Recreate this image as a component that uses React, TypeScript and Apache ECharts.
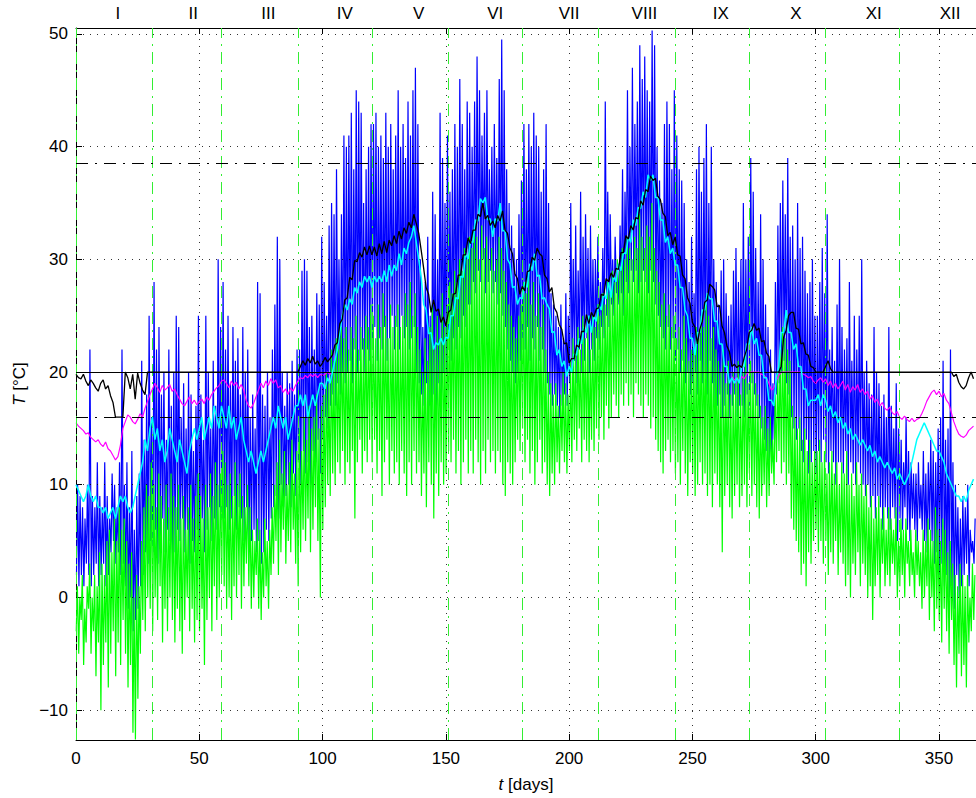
import React, { useEffect, useRef } from "react";
import * as echarts from "echarts";

// ---------- data ----------
// daily maxima / minima of the blue series (days 0..364)
const blueHi = [
  10, 9, 8, 7, 10, 22, 9, 8, 12, 9,
  8, 12, 9, 7, 11, 10, 8, 12, 22, 10,
  12, 8, 13, 6, 9, 11, 21, 14, 18, 25,
  16, 28, 22, 24, 18, 20, 14, 22, 17, 20,
  25, 24, 16, 19, 15, 20, 18, 13, 17, 25,
  18, 14, 25, 20, 15, 21, 17, 30, 24, 28,
  22, 25, 19, 24, 21, 23, 18, 24, 20, 22,
  16, 18, 15, 28, 27, 18, 17, 20, 16, 22,
  26, 32, 30, 20, 17, 20, 19, 21, 18, 22,
  22, 29, 30, 29, 24, 25, 22, 27, 26, 32,
  28, 25, 33, 35, 34, 38, 30, 34, 41, 40,
  41, 43, 38, 45, 44, 43, 35, 38, 40, 42,
  42, 43, 40, 41, 39, 43, 40, 42, 38, 41,
  45, 40, 42, 39, 44, 41, 45, 47, 42, 30,
  24, 28, 32, 25, 36, 34, 30, 43, 39, 35,
  41, 36, 38, 42, 40, 46, 42, 38, 44, 43,
  40, 44, 48, 45, 41, 43, 45, 38, 40, 42,
  39, 46, 49.5, 45, 38, 35, 33, 31, 30, 34,
  37, 42, 38, 42, 40, 43, 41, 40, 36, 38,
  42, 35, 27, 26, 25, 24, 26, 23, 27, 25,
  35, 30, 33, 29, 36, 32, 34, 31, 33, 30,
  30, 32, 28, 31, 44, 36, 34, 30, 32, 29,
  33, 38, 36, 45, 40, 47, 42, 44, 49, 46,
  48, 45, 44, 50.3, 49, 40, 37, 35, 42, 44,
  42, 38, 45, 41, 38, 37, 35, 30, 28, 32,
  27, 38, 40, 36, 39, 42, 35, 40, 30, 28,
  26, 29, 30, 27, 25, 26, 29, 31, 28, 30,
  35, 30, 32, 39, 36, 31, 28, 34, 30, 26,
  24, 22, 19, 28, 33, 35, 37, 34, 39, 32,
  33, 30, 35, 31, 32, 29, 27, 28, 30, 25,
  25, 28, 31, 27, 34, 22, 24, 21, 26, 30,
  24, 22, 23, 28, 21, 25, 22, 25, 30, 20,
  21, 19, 18, 24, 20, 19, 17, 18, 16, 24,
  17, 15, 19, 15, 14, 12, 16, 13, 12, 11,
  11, 12, 10, 13, 11, 12, 14, 13, 12, 15,
  16, 21, 14, 15, 22, 12, 10, 8, 7, 9,
  8, 10, 6, 5, 7,
];
const blueLo = [
  2, 1, 2, 1, 3, 2, 1, 2, 3, 1,
  2, 3, 1, 2, 4, 5, 3, 4, 2, 3,
  1, -1, 0, -3, -2, -1, 1, 2, 4, 3,
  5, 4, 6, 3, 5, 7, 4, 6, 5, 3,
  4, 6, 5, 7, 4, 6, 3, 5, 4, 6,
  5, 7, 4, 6, 8, 5, 7, 6, 8, 7,
  7, 8, 6, 7, 9, 6, 8, 7, 5, 8,
  4, 5, 6, 4, 5, 3, 4, 6, 5, 7,
  8, 9, 7, 10, 8, 9, 10, 8, 11, 9,
  12, 10, 13, 11, 12, 10, 13, 12, 14, 11,
  14, 16, 15, 17, 18, 17, 19, 18, 20, 19,
  20, 21, 19, 22, 20, 21, 22, 20, 22, 21,
  22, 24, 21, 23, 22, 24, 21, 23, 25, 22,
  24, 22, 25, 23, 24, 22, 23, 24, 20, 19,
  18, 17, 19, 17, 16, 18, 17, 19, 18, 20,
  20, 22, 21, 23, 22, 24, 23, 25, 24, 26,
  26, 28, 27, 29, 28, 30, 27, 28, 29, 27,
  28, 26, 27, 25, 24, 22, 21, 20, 19, 20,
  21, 23, 22, 24, 21, 23, 22, 24, 21, 22,
  20, 19, 18, 17, 18, 17, 16, 17, 18, 17,
  19, 20, 21, 19, 22, 20, 21, 23, 20, 22,
  21, 23, 22, 24, 23, 25, 24, 26, 25, 27,
  26, 27, 25, 28, 27, 29, 28, 29, 27, 28,
  29, 28, 27, 29, 28, 26, 25, 24, 23, 22,
  24, 22, 23, 21, 22, 20, 21, 19, 20, 18,
  19, 20, 18, 21, 19, 20, 18, 21, 19, 17,
  17, 18, 16, 17, 18, 16, 17, 18, 16, 17,
  17, 16, 18, 17, 19, 18, 17, 16, 15, 14,
  13, 12, 12, 14, 18, 19, 20, 21, 19, 18,
  16, 15, 14, 15, 13, 12, 14, 11, 12, 13,
  11, 13, 12, 14, 12, 11, 13, 12, 10, 12,
  12, 11, 13, 10, 12, 11, 10, 12, 11, 10,
  9, 10, 8, 9, 7, 9, 8, 6, 8, 7,
  6, 8, 7, 5, 7, 6, 8, 6, 5, 7,
  6, 5, 7, 6, 5, 4, 6, 5, 3, 4,
  2, 3, 1, 2, 0, 1, -1, 2, 0, 1,
  2, 3, 1, 4, 3,
];
// daily maxima / minima of the green series
const greenHi = [
  1, 0, 2, -1, 1, 3, 0, 2, 1, 4,
  3, 2, 5, 6, 4, 7, 5, 8, 6, 7,
  5, 3, 4, 0, 2, 1, 5, 8, 10, 9,
  12, 10, 8, 11, 9, 7, 10, 8, 11, 9,
  8, 10, 7, 9, 6, 8, 10, 7, 9, 11,
  9, 7, 10, 8, 11, 9, 12, 10, 11, 13,
  12, 10, 11, 9, 12, 10, 11, 9, 8, 10,
  8, 6, 5, 7, 6, 4, 7, 5, 6, 8,
  10, 12, 14, 11, 13, 10, 12, 14, 11, 13,
  15, 13, 16, 14, 17, 15, 16, 18, 15, 17,
  18, 20, 19, 22, 21, 23, 22, 24, 23, 24,
  22, 24, 23, 25, 22, 24, 23, 25, 24, 26,
  25, 23, 26, 24, 27, 25, 23, 26, 24, 25,
  26, 24, 25, 27, 26, 28, 25, 27, 24, 22,
  20, 23, 21, 24, 26, 22, 25, 23, 27, 24,
  26, 28, 27, 29, 28, 30, 29, 31, 30, 32,
  31, 33, 32, 30, 33, 31, 32, 30, 31, 29,
  30, 32, 31, 29, 28, 26, 25, 24, 23, 25,
  26, 28, 27, 29, 26, 28, 25, 27, 24, 26,
  22, 20, 19, 18, 19, 17, 18, 20, 19, 18,
  21, 23, 22, 24, 22, 25, 23, 24, 22, 25,
  24, 26, 25, 27, 26, 28, 27, 29, 28, 30,
  29, 31, 30, 32, 31, 30, 32, 31, 34, 32,
  31, 33, 32, 35, 31, 29, 28, 26, 27, 25,
  26, 24, 25, 23, 24, 22, 25, 23, 21, 22,
  22, 24, 23, 25, 24, 26, 25, 23, 24, 22,
  21, 20, 22, 19, 21, 18, 20, 19, 21, 18,
  20, 22, 19, 21, 20, 19, 18, 17, 16, 17,
  15, 16, 14, 18, 20, 22, 24, 23, 22, 21,
  17, 16, 15, 16, 14, 15, 13, 14, 12, 13,
  13, 14, 12, 13, 11, 12, 13, 11, 12, 10,
  12, 11, 13, 10, 11, 9, 12, 10, 11, 9,
  10, 8, 9, 7, 8, 9, 7, 8, 6, 8,
  7, 6, 8, 5, 7, 6, 7, 5, 6, 4,
  6, 5, 4, 6, 5, 7, 6, 5, 8, 6,
  5, 7, 6, 4, 5, 3, 2, 1, 3, 2,
  1, 2, 0, 3, 2,
];
const greenLo = [
  -3, -5, -2, -6, -4, -1, -5, -3, -7, -4,
  -10, -6, -4, -8, -5, -3, -7, -4, -6, -2,
  -5, -8, -6, -12, -12.6, -9, -5, -2, -3, 0,
  -1, -3, 0, -2, 1, -4, -1, -3, 0, -2,
  -4, -1, -3, -5, -2, 0, -3, -1, -4, -2,
  -3, -1, -6, -2, 0, -3, 1, -2, 0, 2,
  1, -1, 0, -2, 1, 0, 2, -1, 1, 3,
  1, -1, 0, 2, -1, -2, 0, 1, -1, 2,
  3, 5, 2, 4, 6, 3, 5, 4, 6, 3,
  1, 4, 6, 5, 7, 4, 6, 8, 5, 0,
  6, 8, 10, 9, 11, 10, 12, 11, 13, 10,
  12, 11, 13, 7, 12, 14, 11, 13, 12, 14,
  12, 14, 11, 13, 9, 12, 14, 10, 13, 11,
  12, 10, 13, 11, 9, 12, 10, 13, 11, 12,
  9, 11, 8, 12, 10, 7, 11, 9, 12, 10,
  11, 13, 12, 14, 11, 13, 10, 12, 14, 11,
  13, 11, 14, 12, 10, 13, 11, 14, 12, 13,
  11, 13, 12, 10, 9, 12, 11, 10, 12, 14,
  13, 15, 12, 14, 11, 13, 10, 12, 14, 11,
  12, 10, 9, 11, 10, 12, 11, 13, 12, 11,
  13, 12, 14, 13, 15, 12, 14, 13, 12, 14,
  13, 15, 14, 16, 14, 17, 15, 16, 18, 17,
  16, 18, 17, 19, 17, 18, 16, 19, 18, 17,
  16, 18, 17, 15, 16, 14, 13, 12, 11, 13,
  14, 12, 13, 11, 12, 10, 13, 11, 9, 12,
  11, 9, 10, 12, 10, 11, 9, 10, 8, 11,
  10, 8, 4, 9, 10, 8, 7, 9, 10, 8,
  9, 10, 8, 11, 9, 10, 8, 7, 9, 10,
  8, 9, 11, 10, 12, 13, 11, 12, 10, 11,
  7, 6, 5, 4, 2, 3, 1, 4, 3, 5,
  6, 4, 5, 3, 5, 2, 4, 3, 5, 2,
  4, 3, 1, 2, 0, 3, 2, 4, 1, 3,
  2, 0, 1, -2, 1, 2, 0, 3, 1, 2,
  1, 3, 2, 0, 1, 2, 0, 3, 1, 2,
  0, 2, 1, -1, 0, 1, -2, 0, -3, -1,
  -2, -4, -1, -3, -5, -2, -6, -8, -5, -7,
  -6, -8, -4, -3, -2,
];
// cyan series, one value per day
const cyan = [
  10, 9.5, 9, 8.5, 9, 10, 9, 8.5, 9, 8,
  8, 7.5, 8, 7, 7.5, 8, 7, 8, 9, 8.5,
  9, 8, 7.5, 8, 9, 10, 11, 12, 14, 13,
  15, 16, 14, 15, 13, 14, 12, 13, 15, 14,
  13, 12, 14, 13, 12, 11, 13, 14, 15, 14,
  15, 16, 14, 15, 16, 15, 17, 16, 15, 17,
  16, 15, 17, 15, 16, 14, 15, 16, 14, 13,
  12, 13, 12, 11, 12, 13, 12, 13, 14, 15,
  16, 15, 17, 16, 15, 16, 14, 15, 16, 17,
  17, 18, 17, 18, 16, 17, 18, 17, 18, 19,
  19, 18.5, 19.5, 19, 20, 21, 22, 23.5, 25, 26,
  25.5, 26.5, 26, 27.5, 27, 28, 27.5, 28.5, 28, 28.5,
  27.5, 28.5, 28, 28.5, 28, 29, 28, 29.5, 28.5, 29.5,
  29, 30.5, 29.5, 31, 30.5, 31.5, 32, 33, 31.5, 30,
  28.4, 26, 25.5, 23.4, 23.5, 22, 22.6, 22.4, 23, 22.4,
  23.1, 23, 25, 25, 26.6, 26.5, 28.5, 28.4, 30.6, 30,
  31.6, 31.5, 33.5, 33.4, 35.4, 35, 35.5, 33.5, 33.6, 32,
  33.6, 33.4, 35, 32.5, 32.6, 30, 29.6, 27.5, 27.6, 26,
  26.6, 26.5, 28, 27.5, 29.6, 29, 30.5, 28.5, 28.6, 26.5,
  26.6, 26, 25.6, 23.5, 23.6, 21.5, 22, 20.5, 21, 19.6,
  20.5, 20, 21.6, 21.5, 23, 22.5, 24, 23.5, 25, 23.5,
  25, 24.5, 26, 25.5, 27, 26.5, 28, 26.6, 28.6, 28,
  29.6, 29, 30.6, 30.5, 32, 31.5, 33.5, 33, 34.6, 34.5,
  36, 35.5, 37.5, 37, 37.5, 35.5, 35.5, 33.5, 33.5, 31.5,
  32, 30.5, 31, 29.5, 29.5, 27.5, 27.5, 25.5, 25, 23,
  23, 21.5, 23.5, 23.5, 25.5, 25.5, 27, 26.5, 26.5, 24.5,
  24.5, 22.5, 22.5, 20.5, 20.5, 19, 19.5, 19, 19.5, 19,
  20.5, 20.5, 22.5, 22.5, 24, 22.5, 23, 21.5, 21.5, 19.5,
  19.5, 17.5, 17.5, 17, 19.5, 20.5, 23.5, 23.5, 25.5, 23.5,
  23.5, 22, 22.5, 20.5, 20.5, 18.5, 18.5, 17, 17.5, 17.5,
  17.5, 18, 17, 18, 17.5, 16.5, 17, 16, 16.5, 15.5,
  16, 15, 15.5, 14.5, 15, 14, 14.5, 14, 13.5, 14,
  13.5, 13, 13.5, 12.5, 13, 12, 12.5, 12, 11.5, 12,
  11.5, 11, 11.5, 10.5, 11, 10.5, 10, 10.5, 11, 12,
  13, 14, 14.5, 15, 15.5, 15, 14.5, 14, 13.5, 13,
  13, 12.5, 12, 11, 10.5, 10, 9.5, 9, 9, 8.5,
  9, 8.5, 9.5, 10, 10.5,
];
// magenta series: two stretches (days 0..104 and days 266..364)
const magentaEarlyStart = 0;
const magentaEarly = [
  15.5, 15.2, 15, 14.8, 14.5, 14.6, 14.2, 14, 13.8, 14,
  13.6, 13.4, 13.8, 13.2, 13, 12.6, 12.2, 12.5, 13.5, 15,
  15.6, 16.2, 16, 15.6, 15.4, 15.8, 16.3, 16, 16.8, 17.4,
  18, 18.5, 19, 18.6, 18.2, 18.8, 18.4, 18.6, 18.9, 18.3,
  18.5, 18, 17.6, 17.2, 17, 17.4, 17.8, 17.2, 17.5, 17.1,
  17.4, 17.6, 17.2, 17.8, 17.5, 18, 18.3, 18.6, 18.8, 19.2,
  19.3, 19, 18.6, 19.2, 18.8, 19.1, 18.5, 18.9, 18.4, 17.5,
  17, 16.8, 17.2, 17.8, 18.4, 19, 18.6, 19.2, 18.8, 19.4,
  19, 19.3, 18.6, 18.8, 18.2, 18.5, 18, 18.6, 18.3, 18.8,
  19.2, 19.5, 19.4, 19.7, 19.5, 19.8, 19.6, 19.8, 19.5, 19.8,
  19.7, 19.8, 20, 19.8, 20,
];
const magentaLateStart = 266;
const magentaLate = [
  19.6, 19.3, 19.5, 19.2,
  19.6, 19.4, 19.8, 20, 20, 20, 20, 20, 19.8, 19.7,
  19.5, 19, 18.4, 18.6, 19.2, 19.7, 20, 20, 20, 20,
  20, 20, 20, 20, 20, 19.8, 19.7, 19.5, 19.6, 19.2,
  19, 19.3, 19.5, 19.1, 19.4, 18.8, 19.2, 18.6, 19, 18.5,
  18.8, 19.2, 18.4, 18.9, 18.2, 18.7, 18.4, 18.9, 18.2, 18.5,
  18, 18.3, 17.6, 17.9, 17.3, 17.6, 17, 17.3, 16.8, 16.6,
  16.9, 16.4, 16.2, 16.5, 16, 15.8, 16.1, 15.8, 15.6, 15.9,
  15.6, 15.8, 15.9, 16.3, 16.8, 17.4, 17.8, 18.2, 18.4, 18,
  18.3, 17.8, 18.1, 17.5, 17.2, 16.4, 15.6, 15, 14.5, 14.3,
  14.2, 14.4, 14.8, 15, 15.2,
];
// black series, one value per day
const black = [
  19.8, 19.5, 19.4, 19.8, 19.2, 18.8, 19.3, 19, 18.6, 18.3,
  19, 19.3, 18.5, 18.8, 17.9, 17.3, 16, 16, 16, 16,
  20, 19.5, 18.5, 19.8, 17.6, 19.9, 19, 18.4, 18, 20,
  20, 20, 20, 20, 20, 20, 20, 20, 20, 20,
  20, 20, 20, 20, 20, 20, 20, 20, 20, 20,
  20, 20, 20, 20, 20, 20, 20, 20, 20, 20,
  20, 20, 20, 20, 20, 20, 20, 20, 20, 20,
  20, 20, 20, 20, 20, 20, 20, 20, 20, 20,
  20, 20, 20, 20, 20, 20, 20, 20, 20, 20,
  20, 20.5, 21, 20.6, 21.2, 20.8, 21.4, 20.7, 21, 20.5,
  20.8, 21.3, 20.9, 21.2, 21.5, 22.4, 22.6, 24.3, 24.7, 26.4,
  26.6, 28.4, 28.2, 29.9, 29.8, 30.6, 30.2, 31.1, 30.4, 31.2,
  30.4, 31.1, 30.3, 31.4, 30.5, 31.6, 30.6, 31.7, 31.2, 32.1,
  31.4, 32.5, 31.8, 32.8, 32.3, 33.3, 32.8, 34, 33.2, 32.3,
  30.8, 29.2, 27.5, 26.9, 25.3, 26.4, 25.4, 25.6, 24.4, 24.9,
  24.1, 25.3, 25.5, 26.9, 27, 28.6, 28.6, 30.4, 30.4, 31.9,
  31.4, 32.6, 32.6, 34, 33.8, 35, 33.6, 33.9, 33, 33.4,
  32.8, 33.9, 33.4, 34.3, 32.6, 32.3, 31, 30.5, 28.7, 28.3,
  26.9, 27.6, 27.2, 28.9, 29, 30.2, 29.9, 31, 30.5, 30.3,
  28.6, 28.3, 27.1, 27.5, 25.7, 25.3, 24.2, 23.8, 22.5, 22.6,
  20.8, 21.2, 21.2, 22.4, 22.2, 23.6, 23.6, 25.1, 24.3, 25.3,
  24.9, 25.6, 25.7, 26.9, 26.8, 28.3, 28, 28.8, 28.4, 29.2,
  29.1, 30.6, 30.6, 32.1, 31.8, 33, 32.6, 33.7, 33.6, 35.2,
  34.8, 36.2, 36, 37.4, 37, 37.2, 35.6, 35.3, 34.1, 33.8,
  32.1, 32.4, 31.3, 32, 30.4, 30.3, 28.6, 28.3, 26.6, 26.1,
  24.4, 24, 22.5, 23.8, 24.5, 26.2, 26.4, 27.8, 27.6, 27.3,
  25.8, 25.9, 24.1, 23.5, 22.3, 21.8, 20.5, 20.7, 20.4, 20.6,
  20.4, 21.3, 22, 23.5, 23.7, 24.3, 23.7, 23.9, 22.7, 22.8,
  21.7, 21.4, 20, 20, 20, 20, 20.5, 23.1, 23.7, 25,
  25.3, 25.3, 23.9, 23.8, 22.5, 22.6, 21.6, 21.5, 20.5, 20.4,
  20, 20, 20, 20, 20.5, 21, 20.3, 20, 20, 20,
  20, 20, 20, 20, 20, 20, 20, 20, 20, 20,
  20, 20, 20, 20, 20, 20, 20, 20, 20, 20,
  20, 20, 20, 20, 20, 20, 20, 20, 20, 20,
  20, 20, 20, 20, 20, 20, 20, 20, 20, 20,
  20, 20, 20, 20, 20, 20, 19.6, 19.8, 19.1, 18.7,
  18.5, 18.8, 19.5, 20, 19.4,
];

const xTicks = [0, 50, 100, 150, 200, 250, 300, 350];
const yTicks = [-10, 0, 10, 20, 30, 40, 50];
const monthStarts = [0, 31, 59, 90, 120, 151, 181, 212, 243, 273, 304, 334];
const monthLabels = ["I", "II", "III", "IV", "V", "VI", "VII", "VIII", "IX", "X", "XI", "XII"];
const monthLabelPos = [17, 47.5, 78, 109, 139, 170, 200, 230.5, 261.5, 292, 323.5, 354.5];
const dashedLevels = [38.5, 16];
const solidLevel = 20;
const xMin = 0;
const xMax = 365;
const yMin = -12.65;
const yMax = 50.53;

const FONT = "'Liberation Sans', Arial, Helvetica, sans-serif";

function zigzag(lo: number[], hi: number[], oLo: number, oHi: number) {
  const out: number[][] = [];
  lo.forEach((v, d) => {
    out.push([d + oLo, v]);
    out.push([d + oHi, hi[d]]);
  });
  return out;
}

export default function App() {
  const ref = useRef<HTMLDivElement>(null);

  useEffect(() => {
    if (!ref.current) return;
    const chart = echarts.init(ref.current, null, { renderer: "svg" });

    const blueData = zigzag(blueLo, blueHi, 0.2, 0.65);
    const greenData = zigzag(greenLo, greenHi, 0.1, 0.55);
    const cyanData = cyan.map((v, d) => [d, v]);
    const blackData = black.map((v, d) => [d, v]);
    const magentaData: any[] = [
      ...magentaEarly.map((v, i) => [magentaEarlyStart + i, v]),
      [magentaEarlyStart + magentaEarly.length, null],
      ...magentaLate.map((v, i) => [magentaLateStart + i, v]),
    ];

    const fmtY = (v: number) => (v < 0 ? "\u2212" + Math.abs(v) : String(v));
    const dashDot = [12, 7, 2, 7];

    const lineSeries = (name: string, data: any[], color: string, z: number, width = 1) => ({
      name,
      type: "line",
      data,
      symbol: "none",
      showSymbol: false,
      silent: true,
      z,
      connectNulls: false,
      lineStyle: { color, width },
      itemStyle: { color },
    });

    const option: any = {
      animation: false,
      backgroundColor: "#ffffff",
      textStyle: { fontFamily: FONT },
      grid: { left: 76, top: 28, width: 900, height: 714, containLabel: false },
      xAxis: [
        {
          type: "value",
          min: xMin,
          max: xMax,
          position: "bottom",
          axisLine: { show: true, onZero: false, lineStyle: { color: "#000", width: 1 } },
          axisTick: { show: true, inside: true, length: 6, customValues: xTicks, lineStyle: { color: "#000" } },
          axisLabel: { customValues: xTicks, color: "#000", fontSize: 17, margin: 10, fontFamily: FONT },
          splitLine: { show: false },
          name: "{i|t} [days]",
          nameLocation: "middle",
          nameGap: 36,
          nameTextStyle: {
            color: "#000",
            fontSize: 17,
            fontFamily: FONT,
            rich: { i: { fontStyle: "italic", fontSize: 17, fontFamily: FONT, color: "#000" } },
          },
        },
        {
          type: "value",
          min: xMin,
          max: xMax,
          position: "top",
          axisLine: { show: true, onZero: false, lineStyle: { color: "#000", width: 1 } },
          axisTick: { show: true, inside: true, length: 6, customValues: xTicks, lineStyle: { color: "#000" } },
          axisLabel: {
            customValues: monthLabelPos,
            color: "#000",
            fontSize: 17,
            margin: 6,
            fontFamily: FONT,
            formatter: (v: number) => {
              const i = monthLabelPos.indexOf(v);
              return i >= 0 ? monthLabels[i] : "";
            },
          },
          splitLine: { show: false },
        },
      ],
      yAxis: {
        type: "value",
        min: yMin,
        max: yMax,
        axisLine: { show: true, onZero: false, lineStyle: { color: "#000", width: 1 } },
        axisTick: { show: true, inside: true, length: 6, customValues: yTicks, lineStyle: { color: "#000" } },
        axisLabel: { customValues: yTicks, color: "#000", fontSize: 17, margin: 8, fontFamily: FONT, formatter: fmtY },
        splitLine: { show: false },
        name: "{i|T} [°C]",
        nameLocation: "middle",
        nameGap: 42,
        nameRotate: 90,
        nameTextStyle: {
          color: "#000",
          fontSize: 17,
          fontFamily: FONT,
          rich: { i: { fontStyle: "italic", fontSize: 17, fontFamily: FONT, color: "#000" } },
        },
      },
      series: [
        {
          name: "grid",
          type: "line",
          data: [],
          silent: true,
          z: 1,
          markLine: {
            silent: true,
            symbol: ["none", "none"],
            label: { show: false },
            animation: false,
            lineStyle: { color: "#000", width: 1, type: [1, 6], opacity: 0.8 },
            data: [
              ...xTicks.filter((v) => v > xMin).map((v) => ({ xAxis: v })),
              ...yTicks.map((v) => ({ yAxis: v })),
            ],
          },
        },
        lineSeries("blue", blueData, "#0000ff", 2, 1.2),
        lineSeries("green", greenData, "#00ff00", 3, 1.2),
        lineSeries("magenta", magentaData, "#ff00ff", 4, 1.2),
        lineSeries("cyan", cyanData, "#00ffff", 5, 1.5),
        lineSeries("black", blackData, "#000000", 6, 1.3),
        {
          name: "refs",
          type: "line",
          data: [],
          silent: true,
          z: 10,
          markLine: {
            silent: true,
            symbol: ["none", "none"],
            label: { show: false },
            animation: false,
            data: [
              ...monthStarts.map((v) => ({
                xAxis: v,
                lineStyle: { color: "#33ee33", width: 1, type: [12, 6, 2, 6] },
              })),
              ...dashedLevels.map((v) => ({
                yAxis: v,
                lineStyle: { color: "#000", width: 1, type: dashDot },
              })),
              { yAxis: solidLevel, lineStyle: { color: "#000", width: 1, type: "solid" } },
            ],
          },
        },
      ],
    };

    chart.setOption(option);
    return () => chart.dispose();
  }, []);

  return (
    <div
      ref={ref}
      style={{ position: "fixed", left: 0, top: 0, width: 976, height: 798, background: "#fff" }}
    />
  );
}
